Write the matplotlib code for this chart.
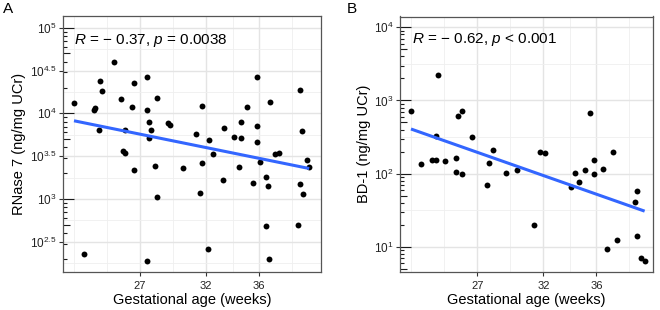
import numpy as np
import matplotlib
matplotlib.use('Agg')
import matplotlib.pyplot as plt
from matplotlib.ticker import FixedLocator, FixedFormatter
import matplotlib.transforms as mtransforms

plt.rcParams['font.family'] = ['Liberation Sans', 'DejaVu Sans']
plt.rcParams['mathtext.fontset'] = 'custom'
plt.rcParams['mathtext.rm'] = 'Liberation Sans'
plt.rcParams['mathtext.it'] = 'Liberation Sans:italic'
plt.rcParams['mathtext.bf'] = 'Liberation Sans:bold'

# ---------------- data ----------------
ga_a = [22.03, 25.03, 24.02, 24.17, 23.52, 23.60, 25.58, 23.90, 25.86, 25.75,
        25.86, 26.43, 26.56, 27.57, 27.57, 28.28, 27.72, 27.85, 27.72, 29.15,
        29.30, 31.24, 31.69, 32.26, 32.55, 33.39, 34.09, 34.66, 34.66, 35.11,
        35.81, 35.81, 35.81, 36.80, 37.24, 37.48, 39.07, 39.24, 26.58, 28.12,
        28.28, 30.26, 31.69, 31.54, 33.26, 34.51, 35.52, 36.09, 36.50, 36.65,
        39.62, 39.79, 39.07, 39.34, 36.50, 38.94, 22.77, 27.57, 32.12, 36.77]
rnase7 = [13300, 39400, 23700, 18400, 11000, 11400, 14700, 6380, 6380, 3630,
          3470, 11900, 22400, 26500, 11000, 15200, 7850, 6380, 5080, 7640,
          7360, 5730, 12300, 4940, 3350, 6780, 5330, 7820, 5210, 12000,
          26400, 7160, 4580, 13700, 3390, 3470, 18600, 6210, 2180, 2420,
          1040, 2280, 2650, 1160, 1660, 2380, 1520, 2720, 1820, 1430,
          2840, 2380, 1480, 1130, 482, 495, 225, 188, 258, 197]

ga_b = [21.99, 24.01, 25.56, 25.87, 23.88, 26.58, 22.74, 23.55, 23.90, 24.58,
        25.41, 25.41, 25.87, 28.16, 27.86, 27.71, 29.15, 30.00, 31.72, 32.14,
        31.26, 35.52, 34.41, 34.69, 34.08, 35.12, 35.82, 35.82, 36.52, 37.26,
        39.09, 38.94, 36.80, 37.54, 39.07, 39.40, 39.65]
bd1 = [710, 2250, 607, 710, 330, 319, 134, 152, 152, 150,
       165, 106, 97.7, 208, 141, 70.5, 102, 113, 197, 189,
       19.6, 667, 101, 75.9, 66.1, 112, 155, 98.6, 115, 199,
       57.1, 41.2, 9.40, 12.2, 13.9, 6.93, 6.43]

x_breaks = [27, 32, 36]
x_minor = [22, 24.5, 29.5, 34, 38.5]

a_break_exps = [2.5, 3, 3.5, 4, 4.5, 5]
a_minor_exps = [2.25, 2.75, 3.25, 3.75, 4.25, 4.75]
b_break_exps = [1, 2, 3, 4]
b_minor_exps = [1.5, 2.5, 3.5]

label_a = r'$R$ = $-$ 0.37, $p$ = 0.0038'
label_b = r'$R$ = $-$ 0.62, $p$ < 0.001'
xlab = 'Gestational age (weeks)'
ylab_a = 'RNase 7 (ng/mg UCr)'
ylab_b = 'BD-1 (ng/mg UCr)'

# ---------------- figure ----------------
W, H = 660, 310
fig = plt.figure(figsize=(6.6, 3.1), dpi=100)

def fmt_exp(e):
    if float(e).is_integer():
        return r'$10^{%d}$' % int(e)
    return r'$10^{%s}$' % ('%g' % e)

def panel(rect_px, x, y, break_exps, minor_exps, xlim, ylim_exp, ann, ann_xy):
    l, t, r, b = rect_px
    ax = fig.add_axes([l / W, (H - b) / H, (r - l) / W, (b - t) / H])
    ax.set_yscale('log')
    ax.set_xlim(*xlim)
    ax.set_ylim(10 ** ylim_exp[0], 10 ** ylim_exp[1])
    ax.set_facecolor('white')

    ax.xaxis.set_major_locator(FixedLocator(x_breaks))
    ax.xaxis.set_minor_locator(FixedLocator(x_minor))
    ax.yaxis.set_major_locator(FixedLocator([10 ** e for e in break_exps]))
    ax.yaxis.set_major_formatter(FixedFormatter([fmt_exp(e) for e in break_exps]))
    ax.yaxis.set_minor_locator(FixedLocator([10 ** e for e in minor_exps]))
    ax.yaxis.set_minor_formatter(FixedFormatter([''] * len(minor_exps)))
    ax.grid(which='major', color='#E4E4E4', lw=1.0, zorder=0)
    ax.grid(which='minor', color='#EFEFEF', lw=0.6, zorder=0)
    ax.set_axisbelow(True)
    ax.tick_params(which='minor', length=0)
    ax.tick_params(axis='x', which='major', direction='out', length=3.2, width=0.8,
                   color='#333333', labelsize=8, pad=3.5, labelcolor='#222222')
    ax.tick_params(axis='y', which='major', direction='out', length=3.2, width=0.8,
                   color='#333333', labelsize=8.5, pad=1.5, labelcolor='#222222')
    for s in ax.spines.values():
        s.set_color('#555555')
        s.set_linewidth(0.9)

    # log ticks (left side, inside)
    wpx = r - l
    trans = mtransforms.blended_transform_factory(ax.transAxes, ax.transData)
    lo, hi = ylim_exp
    for n in range(int(np.floor(lo)), int(np.ceil(hi)) + 1):
        for k in range(1, 10):
            v = k * 10.0 ** n
            if 10 ** lo <= v <= 10 ** hi:
                L = 11 if k == 1 else (7 if k == 5 else 4)
                ax.plot([0, L / wpx], [v, v], transform=trans, color='#1a1a1a',
                        lw=0.8, solid_capstyle='butt', zorder=2)

    # points and linear fit on log10 scale
    ax.scatter(x, y, s=18, color='black', linewidths=0, zorder=3)
    xa = np.asarray(x, float)
    coef = np.polyfit(xa, np.log10(np.asarray(y, float)), 1)
    lx = np.array([xa.min(), xa.max()])
    ax.plot(lx, 10 ** np.polyval(coef, lx), color='#3366FF', lw=2.2, zorder=4,
            solid_capstyle='butt')

    ax.text(ann_xy[0], ann_xy[1], ann, transform=ax.transAxes, fontsize=11,
            ha='left', va='center', color='black')

    fig.text((l + r) / 2 / W, 1 - 300 / H, xlab, ha='center', va='center', fontsize=10.5)
    return ax

axA = panel((63, 16, 321, 272), ga_a, rnase7, a_break_exps, a_minor_exps,
            (21.20, 40.68), (2.146, 5.137), label_a, (0.043, 0.906))
axB = panel((400, 16.5, 652.7, 272), ga_b, bd1, b_break_exps, b_minor_exps,
            (21.16, 40.26), (0.654, 4.148), label_b, (0.047, 0.91))

fig.text(19.5 / W, 1 - 144 / H, ylab_a, rotation=90, ha='center', va='center', fontsize=10.5)
fig.text(364 / W, 1 - 144 / H, ylab_b, rotation=90, ha='center', va='center', fontsize=10.5)

fig.text(8 / W, 1 - 9 / H, 'A', ha='center', va='center', fontsize=11)
fig.text(352 / W, 1 - 9 / H, 'B', ha='center', va='center', fontsize=11)

fig.savefig('out.png', dpi=100, facecolor='white')
